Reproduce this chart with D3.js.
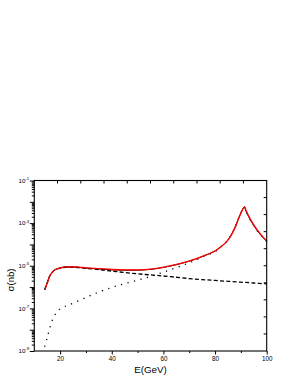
<!DOCTYPE html>
<html><head><meta charset="utf-8">
<script src="https://cdn.jsdelivr.net/npm/d3@7"></script>
<style>body{margin:0;background:#fff}svg{display:block}text{font-family:"Liberation Sans",Arial,sans-serif}</style>
</head><body>
<script>
// Energies (GeV) and log10(sigma / nb)
const energyDashed = [14,15,16,17,18,20,22,24,26,28,30,35,40,45,50,55,60,65,70,75,80,85,90,95,100];
const dashedExp    = [-6.13,-5.80,-5.47,-5.30,-5.19,-5.11,-5.07,-5.06,-5.07,-5.09,-5.12,-5.18,-5.25,-5.32,-5.38,-5.43,-5.48,-5.54,-5.60,-5.65,-5.69,-5.73,-5.77,-5.81,-5.85];

const energyDotted = [14,15,16,17,18,19,20,22,25,30,35,40,45,50,55,60,65,70,75,80,82,84,86,88,89,90,91.3,92,93,94,96,98,100];
const dottedExp    = [-8.80,-8.38,-7.92,-7.55,-7.30,-7.13,-7.02,-6.90,-6.76,-6.49,-6.23,-6.02,-5.84,-5.68,-5.50,-5.30,-5.09,-4.86,-4.60,-4.33,-4.13,-3.94,-3.61,-3.13,-2.81,-2.53,-2.25,-2.45,-2.70,-2.92,-3.30,-3.60,-3.86];

const energyTotal = [14,15,16,17,18,20,22,24,26,28,30,35,40,45,50,55,60,65,70,75,80,82,84,86,88,89,90,91.3,92,93,94,96,98,100];
const totalExp    = [-6.13,-5.80,-5.47,-5.30,-5.19,-5.11,-5.07,-5.06,-5.07,-5.09,-5.11,-5.15,-5.19,-5.21,-5.21,-5.17,-5.08,-4.95,-4.79,-4.57,-4.31,-4.13,-3.93,-3.61,-3.12,-2.80,-2.52,-2.25,-2.45,-2.70,-2.92,-3.30,-3.60,-3.86];

const xMajorTicks = [20,40,60,80,100];
const xMinorTicks = [30,50,70,90];
const yLabelExps  = [-1,-3,-5,-7,-9];
const xTitle = "E(GeV)";
const yTitle = "σ(nb)";

const W = 291, H = 376;
const L = 34.3, R = 266.7, T = 180.5, B = 351;
const svg = d3.select("body").append("svg").attr("width", W).attr("height", H);
svg.append("rect").attr("width", W).attr("height", H).attr("fill", "#fff");

const x = d3.scaleLinear().domain([10,100]).range([L,R]);
const y = d3.scaleLog().domain([1e-9,1e-1]).range([B,T]);

const toPts = (es, vs) => es.map((e,i)=>({e, s: Math.pow(10, vs[i])}));
const line = d3.line().x(d=>x(d.e)).y(d=>y(d.s)).curve(d3.curveCatmullRom.alpha(0.5));

// curves
svg.append("path").attr("d", line(toPts(energyDotted, dottedExp)))
  .attr("fill","none").attr("stroke","#000").attr("stroke-width",1.3)
  .attr("stroke-dasharray","1.2,5.5");
svg.append("path").attr("d", line(toPts(energyDashed, dashedExp)))
  .attr("fill","none").attr("stroke","#000").attr("stroke-width",1.3)
  .attr("stroke-dasharray","4,2.3");
svg.append("path").attr("d", line(toPts(energyTotal, totalExp)))
  .attr("fill","none").attr("stroke","#000").attr("stroke-width",1.0);
svg.append("path").attr("d", line(toPts(energyTotal, totalExp)))
  .attr("fill","none").attr("stroke","#ff0000").attr("stroke-width",1.3)
  .attr("transform","translate(0.3,-0.3)");

// frame
svg.append("rect").attr("x",L).attr("y",T).attr("width",R-L).attr("height",B-T)
  .attr("fill","none").attr("stroke","#000").attr("stroke-width",1.1);

// bottom axis
const gx = svg.append("g").attr("transform",`translate(0,${B})`)
  .call(d3.axisBottom(x).tickValues(xMajorTicks).tickSize(3.5).tickPadding(2));
svg.append("g").attr("transform",`translate(0,${B})`)
  .call(d3.axisBottom(x).tickValues(xMinorTicks).tickSize(2).tickFormat(""));
svg.selectAll("g .domain").remove();
gx.selectAll("text").attr("font-size",6.3).attr("fill","#000");

// top & right mirror ticks: 10 equal divisions
const div = d3.range(1,10);
div.forEach(k=>{
  const xx = L + (R-L)*k/10;
  svg.append("line").attr("x1",xx).attr("x2",xx).attr("y1",T).attr("y2",T+3).attr("stroke","#000").attr("stroke-width",1);
  const yy = T + (B-T)*k/10;
  svg.append("line").attr("x1",R).attr("x2",R-3).attr("y1",yy).attr("y2",yy).attr("stroke","#000").attr("stroke-width",1);
});

// left axis
const decades = d3.range(-9,0).map(p=>Math.pow(10,p));
const minors = [];
d3.range(-9,-1).forEach(p=>{ for(let m=2;m<=9;m++) minors.push(m*Math.pow(10,p)); });
svg.append("g").attr("transform",`translate(${L},0)`)
  .call(d3.axisLeft(y).tickValues(decades).tickSize(4.5).tickPadding(2).tickFormat(""));
svg.append("g").attr("transform",`translate(${L},0)`)
  .call(d3.axisLeft(y).tickValues(minors).tickSize(2.5).tickFormat(""));
svg.selectAll("g .domain").remove();
svg.selectAll("g.tick line").attr("stroke","#000");

yLabelExps.forEach(p=>{
  const t = svg.append("text").attr("x",L-5).attr("y",y(Math.pow(10,p))+2.2)
    .attr("text-anchor","end").attr("font-size",6.2).attr("fill","#000");
  t.append("tspan").text("10");
  t.append("tspan").attr("font-size",4.4).attr("dy",-2.8).text("-" + Math.abs(p));
});

// titles
svg.append("text").attr("x",(L+R)/2).attr("y",372.5).attr("text-anchor","middle")
  .attr("font-size",9.8).attr("fill","#000").text(xTitle);
svg.append("text").attr("transform","translate(13.5,280) rotate(-90)").attr("text-anchor","middle")
  .attr("font-size",9.6).attr("fill","#000").text(yTitle);
</script>
</body></html>
